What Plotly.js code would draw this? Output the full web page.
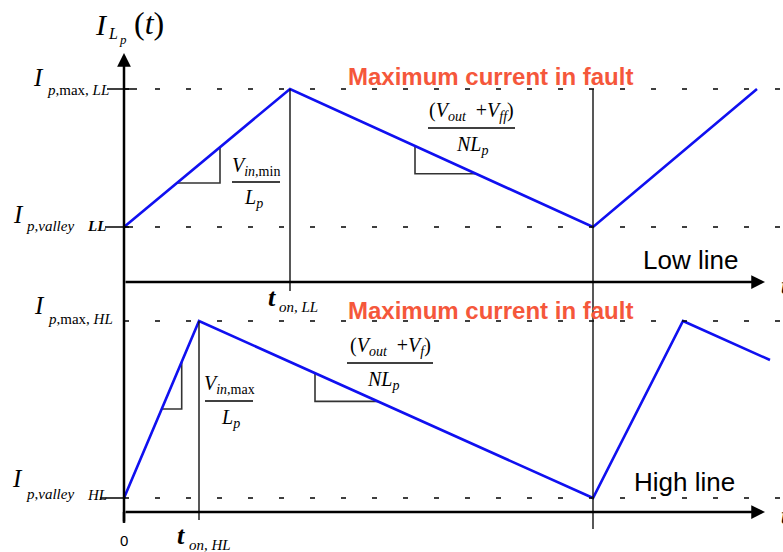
<!DOCTYPE html>
<html>
<head>
<meta charset="utf-8">
<script src="https://cdn.plot.ly/plotly-3.0.1.min.js"></script>
<style>
  body { margin: 0; background: #fff; }
  #chart { width: 783px; height: 552px; }
</style>
</head>
<body>
<div id="chart"></div>
<script>
// inductor current, low line (top panel, axis y) and high line (bottom panel, axis y2)
var tLow = [0, 16.6, 46.9, 63.3];
var iLow = [5.5, 19.3, 5.5, 19.3];
var tHigh = [0, 7.5, 46.9, 55.9, 64.6];
var iHigh = [1.4, 19.1, 1.4, 19.1, 15.2];

// levels and switching instants
var ipMaxLL = 19.3, ipValleyLL = 5.5;
var ipMaxHL = 19.1, ipValleyHL = 1.4;
var tOnLL = 16.6, tOnHL = 7.5, tSwitch = 46.9;

// slope triangles: [x start, x end] on the segment
var triLowRise = [5.3, 9.6];
var triLowFall = [29.1, 35.2];
var triHighRise = [3.77, 5.77];
var triHighFall = [19.1, 25.4];

var serif = 'Liberation Serif, Times New Roman, serif';
var sans = 'Liberation Sans, Arial, sans-serif';
var blue = '#1010F0';
var red = '#F5573B';

// linear interpolation on a piecewise-linear waveform
function yAt(ts, is, t) {
    for (var i = 0; i < ts.length - 1; i++) {
        if (t >= ts[i] && t <= ts[i + 1]) {
            return is[i] + (is[i + 1] - is[i]) * (t - ts[i]) / (ts[i + 1] - ts[i]);
        }
    }
    return is[is.length - 1];
}

// rising: corner at bottom right, falling: corner at bottom left
function triangle(ts, is, xs, rising, yaxis) {
    var ya = yAt(ts, is, xs[0]);
    var yb = yAt(ts, is, xs[1]);
    var x, y;
    if (rising) {
        x = [xs[0], xs[1], xs[1]];
        y = [ya, ya, yb];
    } else {
        x = [xs[0], xs[0], xs[1]];
        y = [ya, yb, yb];
    }
    return {x: x, y: y, yaxis: yaxis, mode: 'lines', type: 'scatter',
        line: {color: '#333', width: 1.6}, hoverinfo: 'skip'};
}

var data = [
    triangle(tLow, iLow, triLowRise, true, 'y'),
    triangle(tLow, iLow, triLowFall, false, 'y'),
    triangle(tHigh, iHigh, triHighRise, true, 'y2'),
    triangle(tHigh, iHigh, triHighFall, false, 'y2'),
    {x: tLow, y: iLow, yaxis: 'y', mode: 'lines', type: 'scatter',
        line: {color: blue, width: 2.6}},
    {x: tHigh, y: iHigh, yaxis: 'y2', mode: 'lines', type: 'scatter',
        line: {color: blue, width: 2.6}}
];

function hline(x0, x1, y, yref, dash, w) {
    return {type: 'line', xref: 'x', yref: yref, x0: x0, x1: x1, y0: y, y1: y,
        line: {color: '#000', width: w || 1.5, dash: dash || 'solid'}};
}
function vline(x, y0, y1, yref, w) {
    return {type: 'line', xref: 'x', yref: yref, x0: x, x1: x, y0: y0, y1: y1,
        line: {color: '#111', width: w || 1.4}};
}

var dashes = '5px,26px';
var shapes = [
    // dashed levels
    hline(0, 66, ipMaxLL, 'y', dashes),
    hline(0, 66, ipValleyLL, 'y', dashes),
    hline(0, 66, ipMaxHL, 'y2', dashes),
    hline(0, 66, ipValleyHL, 'y2', dashes),
    // short solid ticks at the y axis
    hline(-1.7, 1.3, ipMaxLL, 'y'),
    hline(-1.9, 0.9, ipValleyLL, 'y'),
    hline(-2.4, 0, ipValleyHL, 'y2'),
    // on-time and period markers
    vline(tOnLL, ipMaxLL, -0.9, 'y'),
    vline(tOnHL, ipMaxHL, -0.8, 'y2'),
    vline(tSwitch, 42.3, -1.7, 'y2'),
    vline(0, -1.1, 0, 'y2', 2.5),
    // fraction bars
    hline(10.8, 15.6, 10.0, 'y', null, 1.3),
    hline(30.4, 39.1, 15.4, 'y', null, 1.3),
    hline(8.1, 12.9, 11.1, 'y2', null, 1.3),
    hline(22.3, 30.9, 14.9, 'y2', null, 1.3)
];

function txt(text, x, y, yref, size, opt) {
    opt = opt || {};
    return {text: text, x: x, y: y, xref: 'x', yref: yref, showarrow: false,
        xanchor: opt.xa || 'center', yanchor: opt.ya || 'middle',
        font: {family: opt.family || serif, size: size, color: opt.color || '#000'}};
}
function arrow(x0, y0, x1, y1, yref) {
    return {text: '', x: x1, y: y1, ax: x0, ay: y0, xref: 'x', yref: yref,
        axref: 'x', ayref: yref, showarrow: true, arrowhead: 2, arrowsize: 1.1,
        arrowwidth: 2.5, arrowcolor: '#000', standoff: 0};
}

var annotations = [
    // axes
    arrow(0, -1.1, 0, 45.9, 'y2'),
    arrow(0, 0, 64.1, 0, 'y'),
    arrow(0, 0, 64.1, 0, 'y2'),
    txt('<b><i>t</i></b>', 65.5, -0.3, 'y', 26, {xa: 'left'}),
    txt('<b><i>t</i></b>', 65.5, -0.3, 'y2', 26, {xa: 'left'}),
    // title I_Lp(t)
    txt('<i>I</i>', -2.3, 25.8, 'y', 30),
    txt('<i>L</i>', -1.8, 24.9, 'y', 16, {xa: 'left'}),
    txt('<i>p</i>', -0.7, 24.3, 'y', 13, {xa: 'left'}),
    txt('(<i>t</i>)', 2.5, 25.9, 'y', 32),
    // level labels
    txt('<i>I</i>', -8.6, 20.5, 'y', 25),
    txt('<i>p</i>,max, <i>LL</i>', -7.9, 19.2, 'y', 15, {xa: 'left'}),
    txt('<i>I</i>', -10.6, 6.8, 'y', 25),
    txt('<i>p</i>,<i>valley</i>', -10.0, 5.6, 'y', 15, {xa: 'left'}),
    txt('<b><i>LL</i></b>', -3.9, 5.6, 'y', 15, {xa: 'left'}),
    txt('<i>I</i>', -8.5, 20.7, 'y2', 25),
    txt('<i>p</i>,max, <i>HL</i>', -7.8, 19.3, 'y2', 15, {xa: 'left'}),
    txt('<i>I</i>', -10.7, 3.4, 'y2', 25),
    txt('<i>p</i>,<i>valley</i>', -10.0, 1.8, 'y2', 15, {xa: 'left'}),
    txt('<i>HL</i>', -3.9, 1.7, 'y2', 15, {xa: 'left'}),
    // time labels
    txt('<b><i>t</i></b>', 14.8, -1.5, 'y', 26),
    txt('<i>on, LL</i>', 15.3, -2.5, 'y', 15, {xa: 'left'}),
    txt('<b><i>t</i></b>', 5.7, -2.3, 'y2', 26),
    txt('<i>on, HL</i>', 6.3, -3.3, 'y2', 15, {xa: 'left'}),
    txt('0', 0, -2.8, 'y2', 15, {family: sans}),
    // headings
    txt('<b>Maximum current in fault</b>', 36.6, 20.6, 'y', 24, {family: sans, color: red}),
    txt('<b>Maximum current in fault</b>', 36.6, 20.2, 'y2', 24, {family: sans, color: red}),
    txt('Low line', 56.6, 2.2, 'y', 26, {family: sans}),
    txt('High line', 56.0, 3.0, 'y2', 26, {family: sans}),
    // slopes
    txt('<i>V</i><sub><i>in</i>,min</sub>', 13.2, 10.1, 'y', 20, {ya: 'bottom'}),
    txt('<i>L</i><sub><i>p</i></sub>', 12.9, 9.8, 'y', 20, {ya: 'top'}),
    txt('(<i>V</i><sub><i>out</i></sub>  +<i>V</i><sub><i>ff</i></sub>)', 34.7, 15.6, 'y', 20, {ya: 'bottom'}),
    txt('<i>NL</i><sub><i>p</i></sub>', 34.8, 15.1, 'y', 20, {ya: 'top'}),
    txt('<i>V</i><sub><i>in</i>,max</sub>', 10.5, 11.3, 'y2', 20, {ya: 'bottom'}),
    txt('<i>L</i><sub><i>p</i></sub>', 10.6, 10.8, 'y2', 20, {ya: 'top'}),
    txt('(<i>V</i><sub><i>out</i></sub>  +<i>V</i><sub><i>f</i></sub>)', 26.6, 15.1, 'y2', 20, {ya: 'bottom'}),
    txt('<i>NL</i><sub><i>p</i></sub>', 25.9, 14.6, 'y2', 20, {ya: 'top'})
];

var hidden = {showgrid: false, zeroline: false, showline: false, showticklabels: false, ticks: '', fixedrange: true};

var layout = {
    width: 783,
    height: 552,
    margin: {t: 0, l: 0, r: 0, b: 0},
    paper_bgcolor: '#fff',
    plot_bgcolor: '#fff',
    showlegend: false,
    xaxis: Object.assign({range: [-12.4, 65.9]}, hidden),
    yaxis: Object.assign({range: [-27, 28.2]}, hidden),
    yaxis2: Object.assign({range: [-4, 51.2], overlaying: 'y'}, hidden),
    shapes: shapes,
    annotations: annotations
};

Plotly.newPlot('chart', data, layout, {displayModeBar: false, staticPlot: true});
</script>
</body>
</html>
